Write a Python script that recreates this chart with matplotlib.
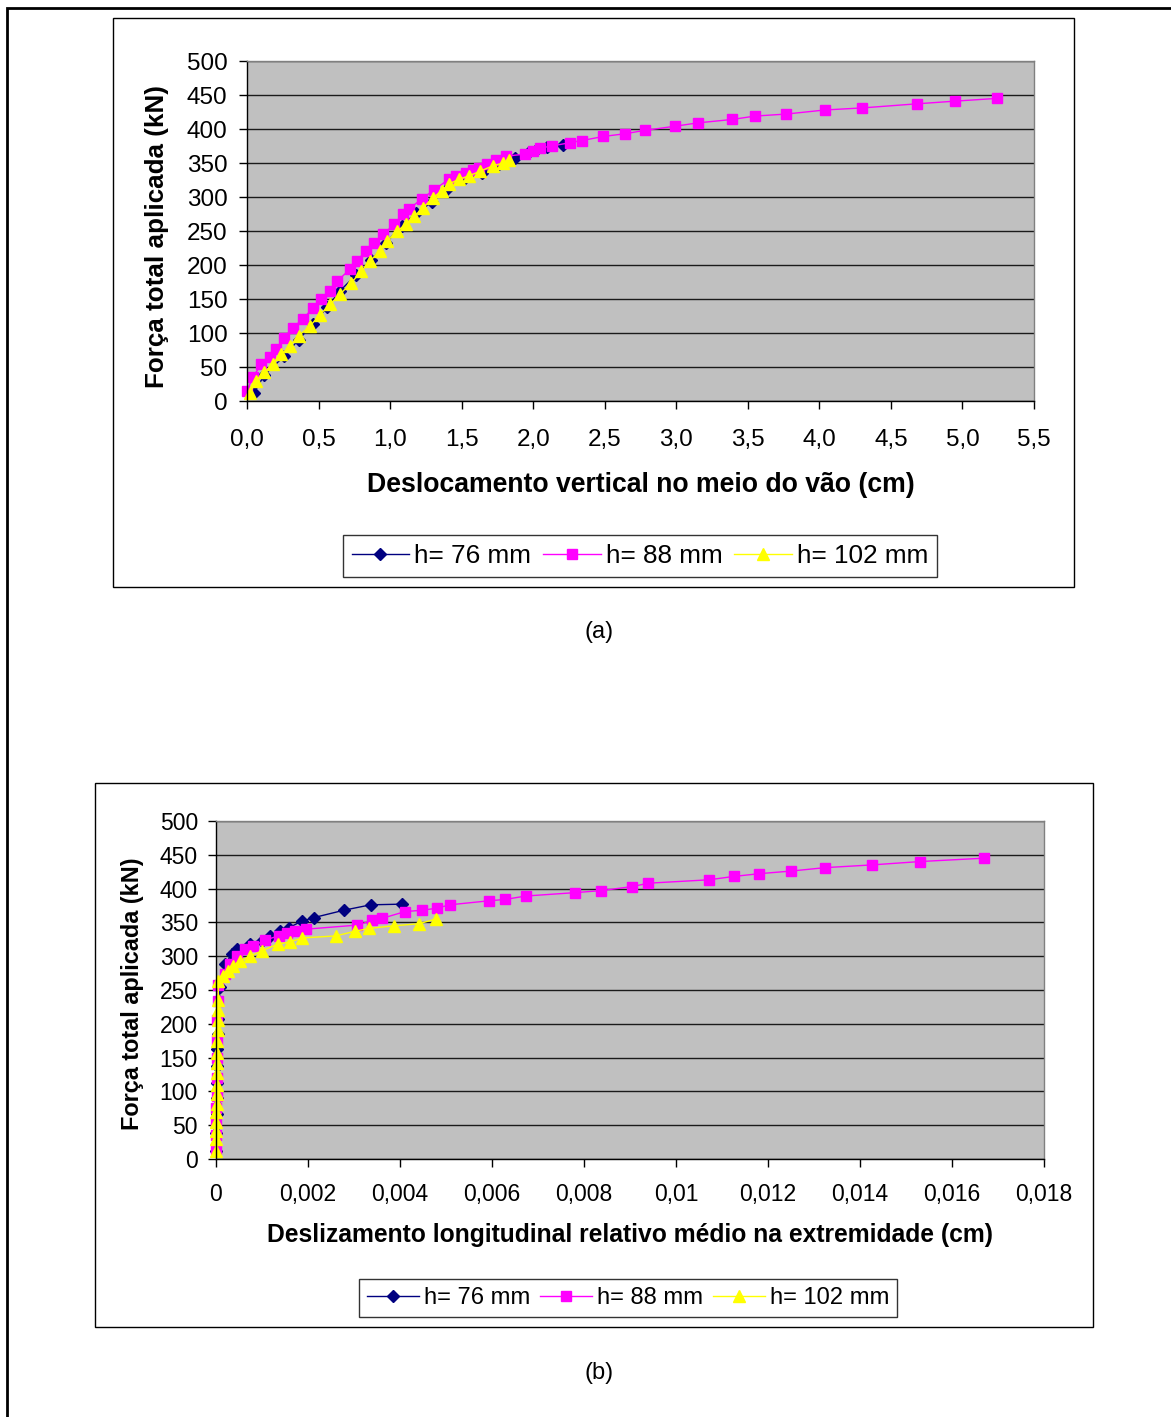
import matplotlib
matplotlib.use("Agg")
import matplotlib.pyplot as plt
from matplotlib.patches import Rectangle
from matplotlib.lines import Line2D

plt.rcParams['font.family'] = ['Liberation Sans', 'DejaVu Sans']

# ---------------- data: (a) mid-span vertical displacement ----------------
labels = ["h= 76 mm", "h= 88 mm", "h= 102 mm"]

defl_76 = [0.05, 0.12, 0.26, 0.36, 0.46, 0.56, 0.65, 0.76, 0.87, 0.97, 1.08, 1.18,
           1.29, 1.40, 1.52, 1.64, 1.76, 1.87, 1.97, 2.03, 2.10, 2.21]
load_a_76 = [12, 38, 66, 90, 113, 138, 162, 185, 207, 232, 258, 276,
             292, 312, 326, 336, 348, 358, 366, 370, 373, 377]

defl_88 = [0.00, 0.04, 0.10, 0.16, 0.20, 0.26, 0.32, 0.39, 0.46, 0.52, 0.58, 0.63,
           0.72, 0.77, 0.83, 0.89, 0.95, 1.03, 1.09, 1.13, 1.22, 1.31, 1.41, 1.46,
           1.53, 1.58, 1.62, 1.68, 1.74, 1.81, 1.94, 2.00, 2.05, 2.13, 2.26, 2.34,
           2.49, 2.64, 2.78, 2.99, 3.15, 3.39, 3.55, 3.77, 4.04, 4.30, 4.68, 4.95, 5.24]
load_a_88 = [15, 35, 54, 64, 76, 93, 108, 120, 137, 150, 162, 176,
             194, 206, 221, 233, 245, 260, 275, 282, 297, 311, 326, 331,
             336, 340, 343, 349, 355, 360, 363, 368, 372, 375, 380, 383,
             389, 393, 398, 404, 409, 414, 419, 422, 428, 431, 437, 441, 445]

defl_102 = [0.02, 0.065, 0.12, 0.18, 0.24, 0.30, 0.36, 0.44, 0.51, 0.58, 0.65, 0.73,
            0.80, 0.86, 0.93, 0.98, 1.05, 1.11, 1.17, 1.23, 1.30, 1.36, 1.41, 1.48,
            1.55, 1.63, 1.72, 1.79, 1.83]
load_a_102 = [12, 29, 42, 54, 69, 81, 96, 110, 127, 142, 157, 174,
              191, 206, 221, 235, 250, 260, 272, 284, 299, 309, 319, 326,
              331, 338, 346, 350, 355]

# ---------------- data: (b) mean end slip ----------------
slip_76 = [0.00001, 0.00001, 0.00002, 0.00002, 0.00002, 0.00003, 0.00003, 0.00004,
           0.00005, 0.00009, 0.0002, 0.00034, 0.00045, 0.00074, 0.001, 0.00118,
           0.0014, 0.00158, 0.00187, 0.00212, 0.00278, 0.00336, 0.00404]
load_b_76 = [12, 38, 66, 90, 113, 138, 162, 185,
             207, 254, 288, 303, 310, 318, 323, 330,
             337, 342, 352, 357, 368, 376, 377]

slip_88 = [0.0, 0.00001, 0.00001, 0.00001, 0.00002, 0.00002, 0.00002, 0.00003,
           0.00003, 0.00004, 0.00005, 0.0002, 0.0003, 0.00045, 0.00063, 0.00081,
           0.00107, 0.00136, 0.00154, 0.00172, 0.00196, 0.00307, 0.0034, 0.00361,
           0.00411, 0.00448, 0.0048, 0.00508, 0.00594, 0.00629, 0.00673, 0.0078,
           0.00837, 0.00905, 0.0094, 0.01071, 0.01126, 0.0118, 0.01251, 0.01324,
           0.01425, 0.0153, 0.0167]
load_b_88 = [15, 35, 54, 76, 93, 120, 150, 176,
             206, 233, 258, 273, 288, 300, 310, 315,
             324, 330, 335, 337, 340, 346, 353, 356,
             366, 368, 371, 376, 382, 384, 389, 394,
             397, 403, 408, 413, 418, 422, 426, 431,
             435, 440, 445]

slip_102 = [0.0, 0.00001, 0.00001, 0.00001, 0.00001, 0.00002, 0.00002, 0.00002,
            0.00002, 0.00003, 0.00003, 0.00003, 0.00004, 0.00004, 0.00004, 0.00005,
            0.00005, 0.00016, 0.00027, 0.00038, 0.00052, 0.00074, 0.001, 0.00134,
            0.00161, 0.00187, 0.0026, 0.00303, 0.00332, 0.00387, 0.00441, 0.00478]
load_b_102 = [12, 29, 42, 54, 69, 81, 96, 110,
              127, 142, 157, 174, 191, 206, 221, 235,
              263, 271, 278, 286, 293, 300, 308, 318,
              321, 327, 330, 337, 341, 345, 348, 355]

xticks_a = [0.0, 0.5, 1.0, 1.5, 2.0, 2.5, 3.0, 3.5, 4.0, 4.5, 5.0, 5.5]
xticks_b = [0, 0.002, 0.004, 0.006, 0.008, 0.01, 0.012, 0.014, 0.016, 0.018]
xticklabels_b = ["0", "0,002", "0,004", "0,006", "0,008", "0,01", "0,012", "0,014", "0,016", "0,018"]
yticks = [0, 50, 100, 150, 200, 250, 300, 350, 400, 450, 500]

colors = ["#000080", "#FF00FF", "#FFFF00"]
markers = ["D", "s", "^"]
msizes = [6.5, 7.5, 9.0]

W, H = 1171, 1417
fig = plt.figure(figsize=(W / 100, H / 100), dpi=100)


def fbox(x0, y0, x1, y1):
    """pixel box (top-left origin) -> figure fraction [l, b, w, h]"""
    return [x0 / W, 1 - y1 / H, (x1 - x0) / W, (y1 - y0) / H]


def frame(x0, y0, x1, y1, lw=1.0, color="black"):
    l, b, w, h = fbox(x0, y0, x1, y1)
    fig.patches.append(Rectangle((l, b), w, h, transform=fig.transFigure,
                                 fill=False, edgecolor=color, linewidth=lw))


def style_axes(ax, fs, xpad, ypad):
    ax.set_facecolor("#C0C0C0")
    ax.set_ylim(0, 500)
    ax.set_yticks(yticks)
    ax.grid(axis="y", color="#1a1a1a", linewidth=1.0)
    ax.set_axisbelow(True)
    for s in ("top", "right"):
        ax.spines[s].set_color("#808080")
        ax.spines[s].set_linewidth(1.0)
    for s in ("left", "bottom"):
        ax.spines[s].set_color("black")
        ax.spines[s].set_linewidth(1.0)
    ax.tick_params(axis="y", direction="out", length=6, width=1, labelsize=fs, pad=ypad)
    ax.tick_params(axis="x", direction="out", length=6, width=1, labelsize=fs, pad=xpad)


# outer page border
frame(7, 8, 1200, 1450, lw=2.0)

# ---------------- chart (a) ----------------
frame(113, 18, 1074, 587, lw=1.0)
ax1 = fig.add_axes(fbox(247, 61, 1034, 401))
for xs, ys, c, m, ms in zip([defl_76, defl_88, defl_102],
                            [load_a_76, load_a_88, load_a_102],
                            colors, markers, msizes):
    ax1.plot(xs, ys, color=c, marker=m, markersize=ms, linewidth=1.0,
             markeredgecolor=c, clip_on=False)
style_axes(ax1, 17.5, 14, 8)
ax1.set_xlim(0, 5.5)
ax1.set_xticks(xticks_a)
ax1.set_xticklabels([f"{v:.1f}".replace(".", ",") for v in xticks_a])
fig.text(641 / W, 1 - 485 / H, "Deslocamento vertical no meio do vão (cm)",
         ha="center", va="center", fontsize=19.2, fontweight="bold")
fig.text(157 / W, 1 - 237 / H, "Força total aplicada (kN)", rotation=90,
         ha="center", va="center", fontsize=18.7, fontweight="bold")

handles = [Line2D([], [], color=c, marker=m, markersize=ms, linewidth=1.0)
           for c, m, ms in zip(colors, markers, msizes)]
leg1 = fig.legend(handles, labels, loc="center", ncol=3,
                  bbox_to_anchor=(640 / W, 1 - 556 / H), fontsize=18.8,
                  frameon=True, fancybox=False, edgecolor="black",
                  handlelength=2.2, handletextpad=0.2, columnspacing=0.45,
                  borderpad=0.35)
leg1.get_frame().set_linewidth(1.0)
fig.text(599 / W, 1 - 632 / H, "(a)", ha="center", va="center", fontsize=17)

# ---------------- chart (b) ----------------
frame(95, 783, 1093, 1327, lw=1.0)
ax2 = fig.add_axes(fbox(216, 821, 1044, 1159))
for xs, ys, c, m, ms in zip([slip_76, slip_88, slip_102],
                            [load_b_76, load_b_88, load_b_102],
                            colors, markers, msizes):
    ax2.plot(xs, ys, color=c, marker=m, markersize=ms, linewidth=1.0,
             markeredgecolor=c, clip_on=False)
style_axes(ax2, 16.5, 11.5, 7)
ax2.set_xlim(0, 0.018)
ax2.set_xticks(xticks_b)
ax2.set_xticklabels(xticklabels_b)
fig.text(630 / W, 1 - 1235 / H,
         "Deslizamento longitudinal relativo médio na extremidade (cm)",
         ha="center", va="center", fontsize=17.7, fontweight="bold")
fig.text(133 / W, 1 - 994 / H, "Força total aplicada (kN)", rotation=90,
         ha="center", va="center", fontsize=16.9, fontweight="bold")

leg2 = fig.legend(handles, labels, loc="center", ncol=3,
                  bbox_to_anchor=(628 / W, 1 - 1298 / H), fontsize=17.1,
                  frameon=True, fancybox=False, edgecolor="black",
                  handlelength=2.2, handletextpad=0.2, columnspacing=0.4,
                  borderpad=0.35)
leg2.get_frame().set_linewidth(1.0)
fig.text(599 / W, 1 - 1373 / H, "(b)", ha="center", va="center", fontsize=17)

fig.savefig("out.png", dpi=100)
